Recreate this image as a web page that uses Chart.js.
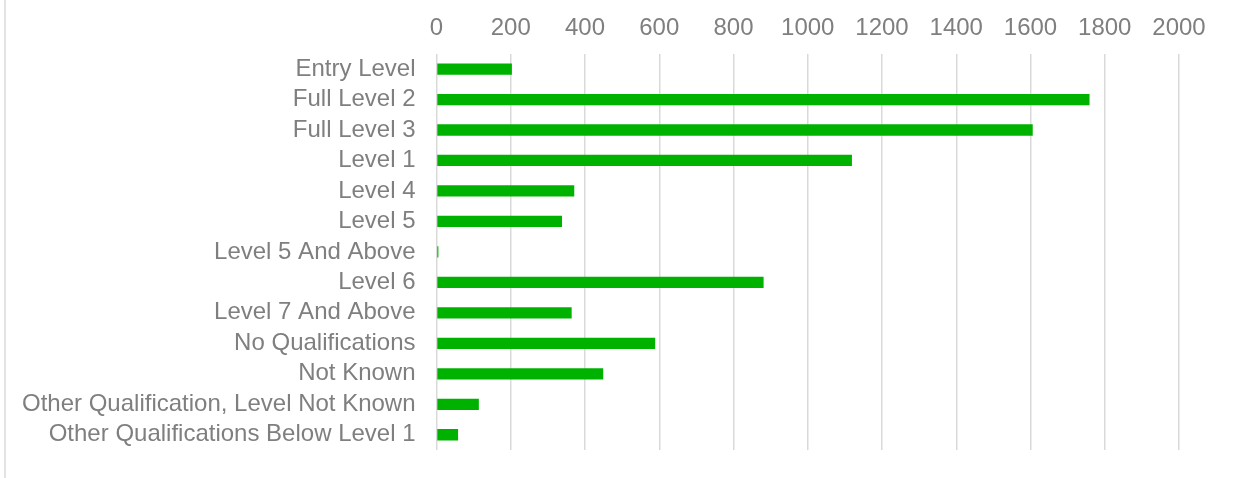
<!DOCTYPE html>
<html>
<head>
<meta charset="utf-8">
<script src="https://cdn.jsdelivr.net/npm/chart.js@4"></script>
<style>
  html, body { margin: 0; padding: 0; background: #fff; }
  #wrap { position: relative; width: 1234px; height: 478px; }
  #frame { position: absolute; left: 4px; top: 0; width: 2px; height: 478px; background: #e3e3e3; }
</style>
</head>
<body>
<div id="wrap">
  <canvas id="chart" width="1234" height="478"></canvas>
  <div id="frame"></div>
</div>
<script>
const categories = [
  "Entry Level",
  "Full Level 2",
  "Full Level 3",
  "Level 1",
  "Level 4",
  "Level 5",
  "Level 5 And Above",
  "Level 6",
  "Level 7 And Above",
  "No Qualifications",
  "Not Known",
  "Other Qualification, Level Not Known",
  "Other Qualifications Below Level 1"
];
const counts = [203, 1759, 1606, 1119, 371, 338, 5, 881, 364, 589, 449, 114, 58];

const axisMin = 0;
const axisMax = 2000;
const axisStep = 200;

const textGrey = '#7f7f7f';
const fontFamily = 'Arial, "Liberation Sans", sans-serif';

new Chart(document.getElementById('chart').getContext('2d'), {
  type: 'bar',
  data: {
    labels: categories,
    datasets: [{
      data: counts,
      backgroundColor: '#00b200',
      borderWidth: 0,
      barPercentage: 0.74,
      categoryPercentage: 0.5
    }]
  },
  options: {
    indexAxis: 'y',
    responsive: false,
    animation: false,
    layout: { padding: { left: 14, right: 55, top: 3, bottom: 28 } },
    plugins: {
      legend: { display: false },
      tooltip: { enabled: false }
    },
    scales: {
      x: {
        position: 'top',
        min: axisMin,
        max: axisMax,
        border: { display: false },
        grid: { color: '#d9d9d9', lineWidth: 1.5, drawTicks: false },
        ticks: {
          stepSize: axisStep,
          padding: 11,
          maxRotation: 0,
          color: textGrey,
          font: { family: fontFamily, size: 24 },
          callback: v => String(v)
        }
      },
      y: {
        border: { display: false },
        // invisible tick marks only used to keep the label gap
        grid: { color: 'rgba(0,0,0,0)', drawOnChartArea: false, drawTicks: true, tickLength: 13 },
        ticks: {
          autoSkip: false,
          padding: 8,
          color: textGrey,
          font: { family: fontFamily, size: 24 }
        }
      }
    }
  }
});
</script>
</body>
</html>
